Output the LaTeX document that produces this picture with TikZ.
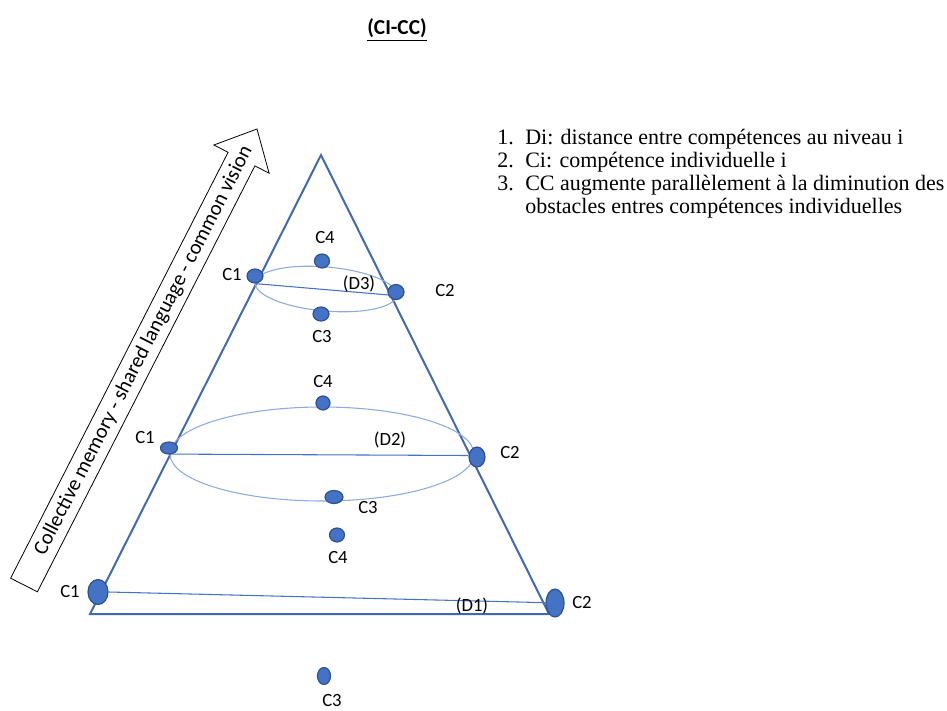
\documentclass[tikz,border=0pt]{standalone}
\usepackage{fontspec}
\setmainfont{Carlito}
\newfontfamily\serifx{Liberation Serif}
\usetikzlibrary{shapes.geometric}
\definecolor{dotfill}{HTML}{4472C4}
\definecolor{dotdraw}{HTML}{2F528F}
\definecolor{triline}{HTML}{4169B0}
\definecolor{ellline}{HTML}{8FAADC}
\definecolor{dline}{HTML}{4472C4}
\begin{document}
\begin{tikzpicture}[x=0.75pt,y=-0.75pt,
  dot/.style={ellipse,fill=dotfill,draw=dotdraw,line width=0.9pt,inner sep=0pt},
  lbl/.style={font=\fontsize{14}{16}\selectfont,inner sep=0pt},
  tri/.style={draw=triline,line width=1.5pt,line join=miter},
  ring/.style={draw=ellline,line width=0.8pt},
  dist/.style={draw=dline,line width=0.8pt},
  item/.style={font=\serifx\fontsize{16.5}{18}\selectfont,anchor=base west,inner sep=0pt},
  blockarrow/.style={draw=black,line width=0.6pt,line join=miter}]
\useasboundingbox (0,0) rectangle (947,711);

% title
\node[font=\bfseries\fontsize{16}{18}\selectfont,inner sep=0pt] (title) at (397,30) {\underline{(CI-CC)}};

% legend
\node[item] (n1) at (497,144) {1.};
\node[item] (t1) at (525,144) {Di: distance entre compétences au niveau i};
\node[item] (n2) at (497,167) {2.};
\node[item] (t2) at (525,167) {Ci: compétence individuelle i};
\node[item] (n3) at (497,190) {3.};
\node[item] (t3) at (525,190) {CC augmente parallèlement à la diminution des};
\node[item] (t4) at (525,213) {obstacles entres compétences individuelles};

% block arrow
\draw[blockarrow] (10.6,578.2) -- (37.4,591.8) -- (254.9,165.9) -- (269.1,173.2)
  -- (257,129) -- (213.9,145) -- (228.1,152.3) -- cycle;
\node[font=\fontsize{15.6}{18}\selectfont,inner sep=0pt,rotate=62.9] (arrowtxt) at (143.7,350.7) {Collective memory - shared language - common vision};

% triangle
\coordinate (apex) at (321,155);
\coordinate (bl) at (90,614);
\coordinate (br) at (549,614);
\draw[tri] (apex) -- (bl) -- (br) -- cycle;

% ellipses (rings)
\draw[ring] (326,289) [rotate around={-5:(326,289)}] ellipse [x radius=71, y radius=22];
\draw[ring] (322,454) ellipse [x radius=152, y radius=47];

% dots, top level
\node[dot,minimum width=12pt,minimum height=10.5pt] (d3c1) at (255,276) {};
\node[dot,minimum width=11.25pt,minimum height=10.5pt] (d3c4) at (322,261) {};
\node[dot,minimum width=12pt,minimum height=10.5pt] (d3c3) at (321,314) {};
\node[dot,minimum width=12pt,minimum height=11.25pt] (d3c2) at (396,292) {};
% middle level
\node[dot,minimum width=12.75pt,minimum height=9pt] (d2c1) at (169,448) {};
\node[dot,minimum width=12pt,minimum height=15pt] (d2c2) at (477,457) {};
\node[dot,minimum width=10.5pt,minimum height=10.5pt] (d2c4) at (323,403) {};
\node[dot,minimum width=13.5pt,minimum height=9.75pt] (d2c3) at (334,497) {};
% lower level
\node[dot,minimum width=11.25pt,minimum height=10.5pt] (d1c4) at (337,535) {};
\node[dot,minimum width=15pt,minimum height=18.75pt] (d1c1) at (98,592) {};
\node[dot,minimum width=13.5pt,minimum height=21pt] (d1c2) at (555,603) {};
\node[dot,minimum width=9.75pt,minimum height=12.75pt] (d1c3) at (324,676) {};

% distance lines
\draw[dist] (d3c1.south) -- (d3c2.200);
\draw[dist] (d2c1.-60) -- (d2c2.170);
\draw[dist] (d1c1.east) -- (d1c2.178);

% labels
\node[lbl] (l3c1) at (232,275) {C1};
\node[lbl] (l3c4) at (325,238) {C4};
\node[lbl] (l3c2) at (445,291) {C2};
\node[lbl] (l3c3) at (322,337) {C3};
\node[lbl] (l3d) at (359,284) {(D3)};

\node[lbl] (l2c1) at (145,438) {C1};
\node[lbl] (l2c4) at (323,382) {C4};
\node[lbl] (l2d) at (390,440) {(D2)};
\node[lbl] (l2c2) at (510,453) {C2};
\node[lbl] (l2c3) at (368,508) {C3};

\node[lbl] (l1c4) at (338,557) {C4};
\node[lbl] (l1c1) at (70,591) {C1};
\node[lbl] (l1c2) at (582,602) {C2};
\node[lbl] (l1d) at (472,606) {(D1)};
\node[lbl] (l1c3) at (332,700) {C3};
\end{tikzpicture}
\end{document}
